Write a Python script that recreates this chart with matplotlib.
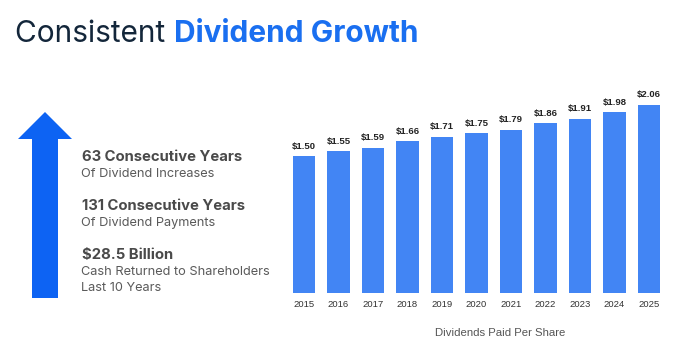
import matplotlib
matplotlib.use('Agg')
import matplotlib.pyplot as plt
from matplotlib.patches import Polygon

plt.rcParams['font.family'] = ['Inter', 'DejaVu Sans']

years = ['2015', '2016', '2017', '2018', '2019', '2020',
         '2021', '2022', '2023', '2024', '2025']
dividends = [1.50, 1.55, 1.59, 1.66, 1.71, 1.75, 1.79, 1.86, 1.91, 1.98, 2.06]

stats = [
    ('63 Consecutive Years', ['Of Dividend Increases']),
    ('131 Consecutive Years', ['Of Dividend Payments']),
    ('$28.5 Billion', ['Cash Returned to Shareholders', 'Last 10 Years']),
]

W, H = 680, 354
fig = plt.figure(figsize=(W / 100, H / 100), dpi=100)
fig.patch.set_facecolor('white')

def fx(px):
    return px / W

def fy(py):
    return 1 - py / H

# title in two colours
t1 = fig.text(fx(15), fy(34), 'Consistent ', fontsize=21.5, color='#13263a',
              ha='left', va='center')
fig.canvas.draw()
bb = t1.get_window_extent()
fig.text(bb.x1 / W, fy(34), 'Dividend Growth', fontsize=21.5, color='#1a6ff0',
         fontweight='bold', ha='left', va='center')

# big arrow on the left
deco = fig.add_axes([0, 0, 1, 1])
deco.set_xlim(0, W)
deco.set_ylim(H, 0)
deco.axis('off')
arrow = Polygon([(32, 298), (32, 139), (18, 139), (45, 112), (72, 139),
                 (58, 139), (58, 298)], closed=True, color='#0d63f3', lw=0)
deco.add_patch(arrow)

# key stats
y = 157
for head, subs in stats:
    fig.text(fx(82), fy(y), head, fontsize=10.7, fontweight='bold',
             color='#4a4a4a', ha='left', va='center')
    y += 17
    for s in subs:
        fig.text(fx(81), fy(y), s, fontsize=9.2, color='#5a5a5a',
                 ha='left', va='center')
        y += 16
    y += 16

# bar chart
ax = fig.add_axes([fx(286.75), fy(293), 379.5 / W, 213 / H])
x = range(len(years))
bars = ax.bar(x, dividends, width=0.64, color='#4285f4')
for xi, v in zip(x, dividends):
    ax.text(xi, v + 0.06, f'${v:.2f}', ha='center', va='bottom',
            fontsize=6.8, fontweight='bold', color='#222222',
            family=['Liberation Sans', 'DejaVu Sans'])
ax.set_xlim(-0.5, len(years) - 0.5)
ax.set_ylim(0, 2.333)
ax.set_xticks(list(x))
ax.set_xticklabels(years, fontsize=6.8, color='#333333',
                   family=['Liberation Sans', 'DejaVu Sans'])
ax.tick_params(axis='x', length=0, pad=5)
ax.set_yticks([])
for sp in ax.spines.values():
    sp.set_visible(False)

fig.text(fx(500), fy(333), 'Dividends Paid Per Share', fontsize=8.2,
         color='#555555', ha='center', va='center',
         family=['Liberation Sans', 'DejaVu Sans'])

fig.savefig('out.png', dpi=100)
